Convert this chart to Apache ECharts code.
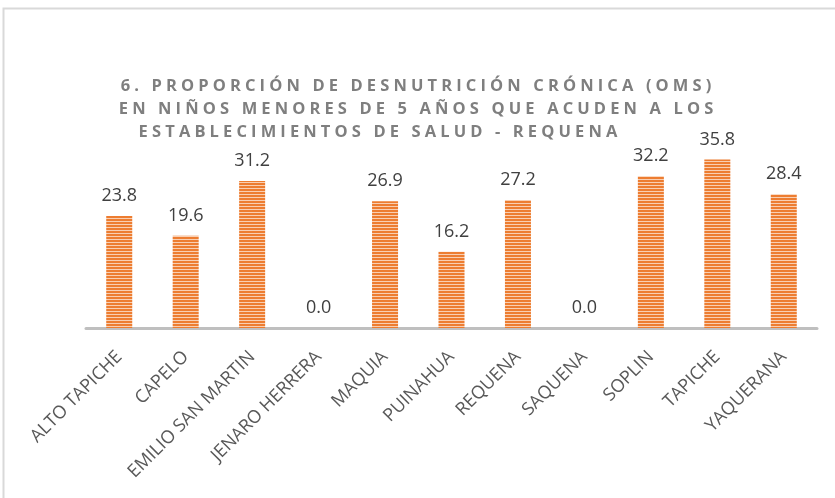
<!DOCTYPE html>
<html>
<head>
<meta charset="utf-8">
<script src="https://cdn.jsdelivr.net/npm/echarts@6/dist/echarts.min.js"></script>
<style>
html, body { margin: 0; padding: 0; background: #fff; }
#main { width: 835px; height: 498px; }
</style>
</head>
<body>
<div id="main"></div>
<script>
// datos
const distritos = ['ALTO TAPICHE', 'CAPELO', 'EMILIO SAN MARTIN', 'JENARO HERRERA', 'MAQUIA',
  'PUINAHUA', 'REQUENA', 'SAQUENA', 'SOPLIN', 'TAPICHE', 'YAQUERANA'];
const proporcion = [23.8, 19.6, 31.2, 0.0, 26.9, 16.2, 27.2, 0.0, 32.2, 35.8, 28.4];
const tituloLineas = [
  '6. PROPORCIÓN DE DESNUTRICIÓN CRÓNICA (OMS)',
  'EN NIÑOS MENORES DE 5 AÑOS QUE ACUDEN A LOS',
  'ESTABLECIMIENTOS DE SALUD - REQUENA'
];

// espaciado entre letras
function espaciar(s) {
  return s.split('').join('\u2005');
}

// trama de rayas horizontales
const trama = document.createElement('canvas');
trama.width = 4;
trama.height = 3;
const ctx = trama.getContext('2d');
ctx.fillStyle = '#ED7D31';
ctx.fillRect(0, 0, 4, 3);
ctx.fillStyle = '#F9CFB2';
ctx.fillRect(0, 2, 4, 1);

const myChart = echarts.init(document.getElementById('main'));

const tituloX = [416, 416, 378];
const tituloY = [86, 109, 132];

myChart.setOption({
  animation: false,
  backgroundColor: '#fff',
  graphic: [
    {
      type: 'rect',
      shape: { x: 3.5, y: 8.5, width: 900, height: 600 },
      style: { fill: 'none', stroke: '#D9D9D9', lineWidth: 2 },
      silent: true
    }
  ].concat(tituloLineas.map(function (t, i) {
    return {
      type: 'text',
      x: tituloX[i],
      y: tituloY[i],
      style: {
        text: espaciar(t),
        fill: '#7F7F7F',
        font: 'bold 16.5px "Open Sans", "DejaVu Sans", sans-serif',
        align: 'center',
        verticalAlign: 'middle'
      },
      silent: true
    };
  })),
  grid: { left: 86, right: 18, top: 139.6, bottom: 170 },
  xAxis: {
    type: 'category',
    data: distritos,
    axisLine: { lineStyle: { color: '#BFBFBF', width: 3 } },
    axisTick: { show: false },
    axisLabel: {
      rotate: 45,
      interval: 0,
      margin: 26,
      color: '#595959',
      fontSize: 18,
      fontFamily: '"Open Sans", sans-serif'
    }
  },
  yAxis: {
    type: 'value',
    min: 0,
    max: 40,
    show: false,
    splitLine: { show: false }
  },
  series: [{
    type: 'bar',
    data: proporcion,
    barWidth: 26,
    itemStyle: { color: { image: trama, repeat: 'repeat' } },
    label: {
      show: true,
      position: 'top',
      distance: 11,
      color: '#404040',
      fontSize: 18,
      fontFamily: '"Open Sans", sans-serif',
      formatter: function (p) { return p.value.toFixed(1); }
    }
  }]
});
</script>
</body>
</html>
